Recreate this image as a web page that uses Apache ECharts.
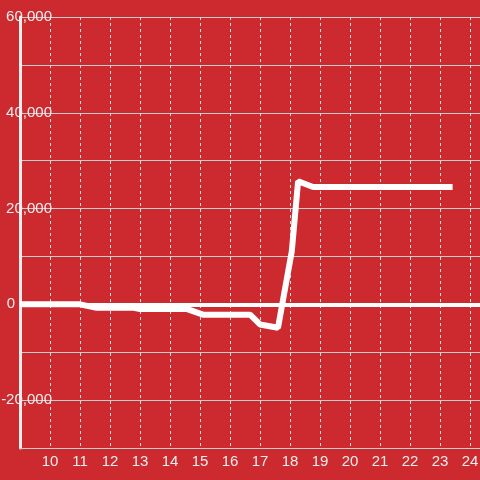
<!DOCTYPE html>
<html>
<head>
<meta charset="utf-8">
<script src="https://cdn.jsdelivr.net/npm/echarts@6/dist/echarts.min.js"></script>
<style>
  html, body { margin: 0; padding: 0; background: #cc2a2f; }
  #chart { width: 480px; height: 480px; }
</style>
</head>
<body>
<div id="chart"></div>
<script>
// data
const xValues = [9, 11, 11.56, 12.8, 13.0, 14.55, 15.1, 16.67, 17.0, 17.6, 18.06, 18.27, 18.77, 23.42];
const yValues = [0, 0, -730, -730, -1000, -950, -2150, -2150, -4200, -4900, 11100, 25700, 24500, 24500];
const yTickLabels = [-20000, 0, 20000, 40000, 60000];

const textColor = '#eeeeee';
const font = 'Liberation Sans, Arial, sans-serif';

const chart = echarts.init(document.getElementById('chart'));

const option = {
  animation: false,
  backgroundColor: '#cc2a2f',
  grid: { left: 20, top: 17, right: -20, bottom: 32, outerBoundsMode: 'none', containLabel: false },
  xAxis: {
    type: 'value',
    min: 9,
    max: 25,
    interval: 1,
    axisLine: { onZero: false, lineStyle: { color: '#cccccc', width: 1 } },
    axisTick: { show: false },
    splitLine: { show: true, lineStyle: { color: '#dddddd', width: 1, type: [3, 3] } },
    axisLabel: { showMinLabel: false, color: textColor, fontSize: 15, fontFamily: font, margin: 6 },
  },
  yAxis: {
    type: 'value',
    min: -30000,
    max: 60000,
    interval: 10000,
    axisLine: { show: true, lineStyle: { color: '#eeeeee', width: 3 } },
    axisTick: { show: false },
    splitLine: { lineStyle: { color: '#cccccc', width: 1 } },
    axisLabel: {
      color: textColor,
      fontSize: 15,
      fontFamily: font,
      margin: -32,
      formatter: (value) => {
        if (!yTickLabels.includes(value)) return '';
        return value === 0 ? '{z|0}' : echarts.format.addCommas(value);
      },
      rich: { z: { color: textColor, fontSize: 15, fontFamily: font, padding: [0, 37, 0, 0] } },
    },
  },
  series: [
    {
      type: 'line',
      data: xValues.map((x, i) => [x, yValues[i]]),
      symbol: 'none',
      lineStyle: { color: '#ffffff', width: 6 },
      markLine: {
        silent: true,
        symbol: 'none',
        label: { show: false },
        lineStyle: { color: '#ffffff', width: 4, type: 'solid' },
        data: [{ yAxis: 0 }],
      },
    },
  ],
};

chart.setOption(option);
</script>
</body>
</html>
